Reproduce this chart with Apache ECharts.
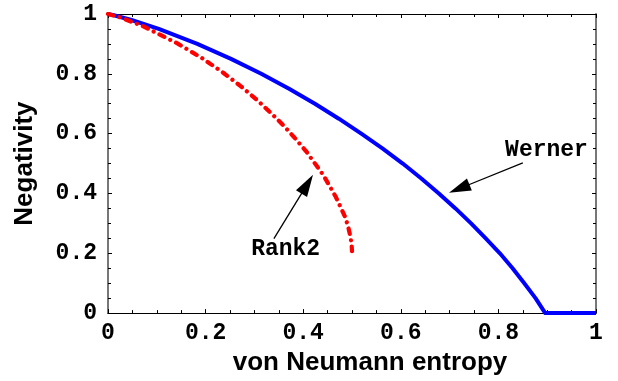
<!DOCTYPE html>
<html>
<head>
<meta charset="utf-8">
<script src="https://cdn.jsdelivr.net/npm/echarts@6/dist/echarts.min.js"></script>
<style>html,body{margin:0;padding:0;background:#fff;}#c{width:618px;height:381px;}</style>
</head>
<body>
<div id="c"></div>
<script>
// Werner curve: [entropy, negativity]
const wernerX = [0, 0.012, 0.048, 0.104, 0.183, 0.252, 0.314, 0.371, 0.424, 0.473, 0.519, 0.563, 0.604, 0.642, 0.678, 0.712, 0.744, 0.774, 0.803, 0.829, 0.853, 0.876, 0.896, 1];
const wernerY = [1, 0.996, 0.98, 0.95, 0.9, 0.85, 0.8, 0.75, 0.7, 0.65, 0.6, 0.55, 0.5, 0.45, 0.4, 0.35, 0.3, 0.25, 0.2, 0.15, 0.1, 0.05, 0, 0];
// Rank2 curve
const rank2X = [0, 0.0227, 0.0707, 0.143, 0.192, 0.2345, 0.2718, 0.305, 0.3345, 0.361, 0.3846, 0.406, 0.441, 0.467, 0.486, 0.492, 0.496, 0.499, 0.5];
const rank2Y = [1, 0.99, 0.96, 0.901, 0.853, 0.8055, 0.759, 0.713, 0.668, 0.625, 0.582, 0.541, 0.462, 0.388, 0.321, 0.290, 0.261, 0.233, 0.207];
// annotations (data coordinates)
const annoLabels = ['Werner', 'Rank2'];
const annoTextAt = [[0.8986, 0.544], [0.364, 0.214]];
const annoFrom = [[0.850, 0.5025], [0.340, 0.249]];
const annoTip = [[0.6988, 0.4023], [0.4201, 0.4624]];

const zip = (a, b) => a.map((v, i) => [v, b[i]]);
const monoFont = '"Courier New", "Liberation Mono", monospace';
const sansFont = 'Arial, "Liberation Sans", Helvetica, sans-serif';

const chart = echarts.init(document.getElementById('c'), null, {renderer: 'canvas'});

function axisBase(pos, show, lineColor, lineWidth) {
  return {
    type: 'value', min: 0, max: 1, interval: 0.2, position: pos,
    axisLine: {show: true, onZero: false, lineStyle: {color: lineColor, width: lineWidth}},
    axisTick: {show: true, inside: true, length: 4, lineStyle: {color: '#000', width: 1}},
    minorTick: {show: true, splitNumber: 4, length: 3, lineStyle: {color: '#000', width: 1}},
    splitLine: {show: false},
    axisLabel: {show: show, color: '#000', fontFamily: monoFont, fontWeight: 'bold', fontSize: 23, margin: 9,
      formatter: v => String(v)}
  };
}

const xMain = Object.assign(axisBase('bottom', true, '#000', 1.2), {
  name: 'von Neumann entropy', nameLocation: 'middle', nameGap: 30,
  nameTextStyle: {color: '#000', fontFamily: sansFont, fontWeight: 'bold', fontSize: 26, padding: [0, 0, 0, 36]}
});
const xTop = axisBase('top', false, '#000', 1.2);
const yMain = Object.assign(axisBase('left', true, '#777', 2), {
  name: 'Negativity', nameLocation: 'middle', nameGap: 70,
  nameTextStyle: {color: '#000', fontFamily: sansFont, fontWeight: 'bold', fontSize: 26}
});
yMain.axisLabel.margin = 11;
const yRight = axisBase('right', false, '#777', 2);

function renderArrow(params, api) {
  const p1 = api.coord([api.value(0), api.value(1)]);
  const p2 = api.coord([api.value(2), api.value(3)]);
  const dx = p2[0] - p1[0], dy = p2[1] - p1[1];
  const len = Math.sqrt(dx * dx + dy * dy);
  const ux = dx / len, uy = dy / len;
  const headLen = 22, headHalf = 6.5;
  const bx = p2[0] - ux * headLen, by = p2[1] - uy * headLen;
  const px = -uy, py = ux;
  return {
    type: 'group',
    children: [
      {type: 'line', shape: {x1: p1[0], y1: p1[1], x2: bx + ux * 2, y2: by + uy * 2},
        style: {stroke: '#000', lineWidth: 1.3}},
      {type: 'polygon', shape: {points: [[p2[0], p2[1]], [bx + px * headHalf, by + py * headHalf], [bx - px * headHalf, by - py * headHalf]]},
        style: {fill: '#000'}}
    ]
  };
}

chart.setOption({
  animation: false,
  backgroundColor: '#fff',
  grid: {left: 108, right: 22, top: 14, bottom: 67.5, containLabel: false},
  xAxis: [xMain, xTop],
  yAxis: [yMain, yRight],
  series: [
    {
      name: 'Werner', type: 'line', data: zip(wernerX, wernerY), showSymbol: false, symbol: 'none',
      lineStyle: {color: '#0000ff', width: 4, cap: 'butt', join: 'round'}, z: 3
    },
    {
      name: 'Rank2', type: 'line', data: zip(rank2X, rank2Y), showSymbol: false, symbol: 'none',
      lineStyle: {color: '#ff0000', width: 4.2, type: [5.5, 6.5, 0.01, 6.5], cap: 'round', join: 'round'}, z: 3
    },
    {
      name: 'arrows', type: 'custom', silent: true, z: 4,
      data: annoFrom.map((f, i) => [f[0], f[1], annoTip[i][0], annoTip[i][1]]),
      renderItem: renderArrow
    },
    {
      name: 'annotations', type: 'scatter', data: annoTextAt.map((p, i) => ({value: p, name: annoLabels[i]})),
      symbolSize: 0, silent: true, z: 5, itemStyle: {opacity: 1},
      label: {show: true, position: 'inside', formatter: p => p.name, color: '#000', opacity: 1,
        fontFamily: monoFont, fontWeight: 'bold', fontSize: 23}
    }
  ]
});
</script>
</body>
</html>
